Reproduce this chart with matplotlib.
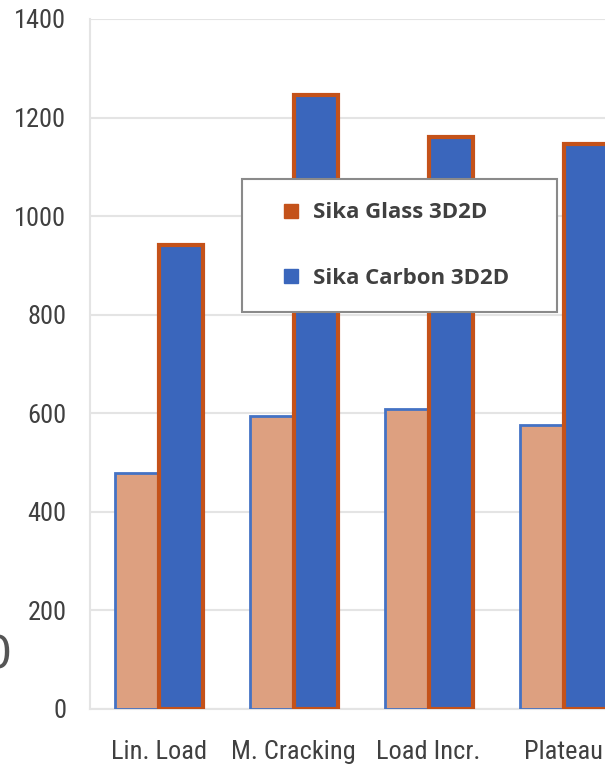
import matplotlib
matplotlib.use("Agg")
import matplotlib.pyplot as plt
from matplotlib import font_manager
from matplotlib.lines import Line2D
import numpy as np

# data
categories = ["Lin. Load", "M. Cracking", "Load Incr.", "Plateau"]
glass = [479, 594, 608, 576]
carbon = [941, 1245, 1160, 1146]
series_names = ["Sika Glass 3D2D", "Sika Carbon 3D2D"]
yticks = [0, 200, 400, 600, 800, 1000, 1200, 1400]

peach = "#DDA080"
blue = "#3A66BC"
orange = "#C4521A"
txt = "#404040"

# pick a narrow font if one is there
narrow = None
for name in ["Liberation Sans Narrow", "DejaVu Sans Condensed", "Roboto Condensed",
             "Open Sans Condensed", "Lato"]:
    try:
        font_manager.findfont(name, fallback_to_default=False)
        narrow = name
        break
    except Exception:
        pass
if narrow is None:
    narrow = "DejaVu Sans"
plt.rcParams['font.family'] = [narrow, 'DejaVu Sans']
tick_size = 20 if narrow in ("Liberation Sans Narrow",) else 19

fig = plt.figure(figsize=(6.05, 7.69), dpi=100)
ax = fig.add_axes([90/605, 1-709/769, 541/605, 690/769])

x = np.arange(len(categories))
w = 0.326
ax.bar(x - w/2, glass, w, color=peach, edgecolor="#4472C4", linewidth=2, zorder=3)
ax.bar(x + w/2, carbon, w, color=blue, edgecolor=orange, linewidth=3, zorder=3)

ax.set_xlim(-0.51, 3.5)
ax.set_ylim(0, 1400)
ax.set_yticks(yticks)
ax.set_xticks(x)
ax.set_xticklabels(categories)
ax.grid(axis="y", color="#E4E4E4", linewidth=1.5, zorder=0)
ax.tick_params(axis="both", length=0, labelsize=tick_size, colors=txt)
ax.tick_params(axis="y", pad=17)
ax.tick_params(axis="x", pad=22)
for s in ["top", "right"]:
    ax.spines[s].set_visible(False)
ax.spines["left"].set_color("#E4E4E4")
ax.spines["bottom"].set_color("#E4E4E4")
ax.spines["left"].set_linewidth(1.5)
ax.spines["bottom"].set_linewidth(1.5)

# legend (colours as shown in the picture)
handles = [Line2D([], [], ls="", marker="s", ms=10, color=orange),
           Line2D([], [], ls="", marker="s", ms=10, color=blue)]
leg = ax.legend(handles, series_names, loc="upper left",
                bbox_to_anchor=(242/605, 1-307/769, 315/605, 128/769),
                bbox_transform=fig.transFigure, mode="expand",
                prop={"weight": "bold", "size": 16, "family": ["Open Sans", "DejaVu Sans"]},
                labelcolor=txt,
                fancybox=False, framealpha=1, edgecolor="#8A8A8A",
                borderpad=1.05, labelspacing=2.0, handlelength=2.3,
                handletextpad=-0.15, borderaxespad=0)
leg.get_frame().set_linewidth(1.5)

# stray digit cut off at the left edge
fig.text(-3/605, 1-656/769, "0", fontsize=32, color="#555555",
         ha="center", va="center", family="DejaVu Sans")

fig.savefig("out.png", dpi=100)
